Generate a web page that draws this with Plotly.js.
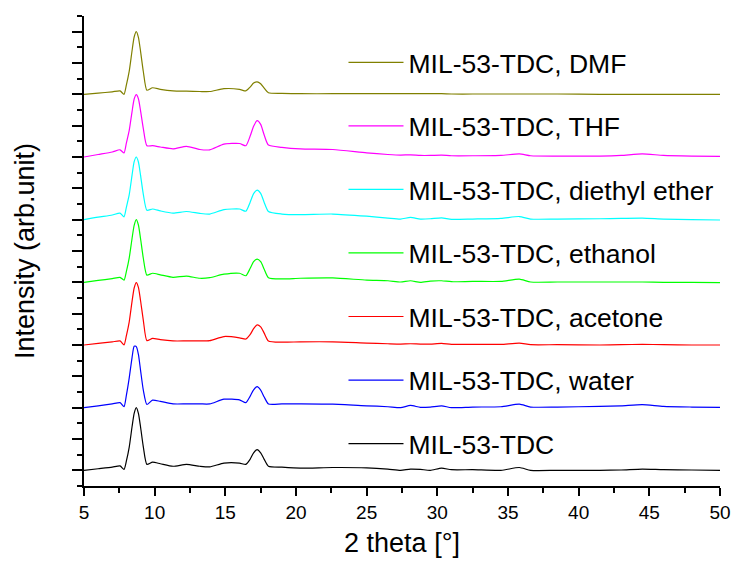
<!DOCTYPE html>
<html>
<head>
<meta charset="utf-8">
<script src="https://cdn.plot.ly/plotly-3.0.1.min.js"></script>
<style>html,body{margin:0;padding:0;background:#fff;}#chart{width:734px;height:563px;}</style>
</head>
<body>
<div id="chart"></div>
<script>
// 2 theta grid (degrees)
const twoTheta = [5, 6, 7, 7.55, 7.83, 8.0, 8.2, 8.4, 8.55, 8.7, 8.85, 9.0, 9.2, 9.45, 9.85, 10.4, 11.3, 12.25, 13.2, 13.9, 14.9, 16.0, 16.45, 16.75, 17.0, 17.25, 17.5, 17.75, 18.05, 19, 20.3, 22.6, 25, 26.5, 27.4, 28.1, 28.8, 29.5, 30.3, 31, 32.5, 34.5, 35.8, 36.6, 38.5, 41.5, 43, 44.5, 46, 48, 50];

// relative intensities (arb. unit)
const tdc = [0, 0.05, 0.10, 0.14, 0.03, 0.30, 0.74, 1.39, 1.82, 2.0, 1.82, 1.39, 0.74, 0.19, 0.26, 0.21, 0.13, 0.19, 0.13, 0.11, 0.23, 0.23, 0.19, 0.35, 0.56, 0.66, 0.56, 0.35, 0.13, 0.10, 0.07, 0.09, 0.08, 0.04, 0.0, 0.04, 0.03, 0.0, 0.07, 0.02, 0.02, 0.0, 0.09, 0.0, 0.0, 0.0, 0.01, 0.04, 0.02, 0.01, 0.0];
const water = [0, 0.06, 0.12, 0.16, 0.03, 0.40, 0.95, 1.60, 1.96, 1.95, 1.70, 1.20, 0.55, 0.10, 0.24, 0.20, 0.12, 0.12, 0.12, 0.12, 0.27, 0.25, 0.16, 0.36, 0.57, 0.67, 0.56, 0.34, 0.12, 0.12, 0.12, 0.11, 0.06, 0.03, 0.0, 0.07, 0.01, 0.02, 0.06, 0.0, 0.02, 0.03, 0.11, 0.02, 0.02, 0.04, 0.06, 0.10, 0.04, 0.02, 0.01];
const acetone = [0, 0.05, 0.10, 0.13, 0.0, 0.30, 0.74, 1.39, 1.82, 1.99, 1.84, 1.42, 0.78, 0.14, 0.21, 0.17, 0.13, 0.13, 0.13, 0.14, 0.27, 0.23, 0.19, 0.33, 0.52, 0.64, 0.58, 0.38, 0.13, 0.09, 0.10, 0.10, 0.06, 0.04, 0.03, 0.04, 0.03, 0.03, 0.05, 0.02, 0.02, 0.02, 0.06, 0.01, 0.01, 0.0, 0.01, 0.02, 0.01, 0.0, 0.0];
const ethanol = [0, 0.06, 0.12, 0.16, 0.07, 0.35, 0.78, 1.40, 1.82, 2.0, 1.83, 1.40, 0.76, 0.23, 0.29, 0.24, 0.16, 0.20, 0.13, 0.15, 0.26, 0.29, 0.21, 0.44, 0.66, 0.74, 0.66, 0.42, 0.15, 0.11, 0.13, 0.14, 0.07, 0.05, 0.01, 0.05, 0.0, 0.04, 0.05, 0.02, 0.03, 0.03, 0.10, 0.01, 0.01, 0.01, 0.01, 0.01, 0.0, 0.0, -0.01];
const diethylEther = [0, 0.08, 0.15, 0.21, 0.09, 0.40, 0.80, 1.42, 1.85, 2.0, 1.84, 1.42, 0.80, 0.30, 0.34, 0.28, 0.21, 0.26, 0.20, 0.18, 0.32, 0.34, 0.27, 0.55, 0.83, 0.94, 0.84, 0.55, 0.26, 0.18, 0.16, 0.18, 0.11, 0.05, 0.02, 0.07, 0.02, 0.03, 0.06, 0.01, 0.02, 0.04, 0.10, 0.02, 0.02, 0.03, 0.04, 0.05, 0.02, 0.0, -0.01];
const thf = [0, 0.08, 0.16, 0.23, 0.13, 0.45, 0.85, 1.45, 1.85, 1.99, 1.86, 1.48, 0.90, 0.36, 0.36, 0.32, 0.26, 0.34, 0.24, 0.23, 0.41, 0.43, 0.36, 0.66, 0.98, 1.16, 1.04, 0.70, 0.38, 0.31, 0.26, 0.24, 0.13, 0.08, 0.06, 0.07, 0.05, 0.05, 0.06, 0.04, 0.04, 0.05, 0.10, 0.04, 0.03, 0.03, 0.05, 0.10, 0.05, 0.03, 0.02];
const dmf = [0, 0.04, 0.08, 0.11, 0.0, 0.30, 0.74, 1.39, 1.83, 2.0, 1.82, 1.38, 0.72, 0.13, 0.21, 0.16, 0.11, 0.10, 0.09, 0.09, 0.18, 0.16, 0.11, 0.23, 0.36, 0.40, 0.34, 0.20, 0.05, 0.03, 0.02, 0.02, 0.02, 0.02, 0.02, 0.02, 0.02, 0.02, 0.02, 0.01, 0.01, 0.01, 0.01, 0.01, 0.01, 0.0, 0.0, 0.0, 0.0, 0.0, 0.0];

// series, top of the stack first
const seriesNames = ["MIL-53-TDC, DMF", "MIL-53-TDC, THF", "MIL-53-TDC, diethyl ether", "MIL-53-TDC, ethanol", "MIL-53-TDC, acetone", "MIL-53-TDC, water", "MIL-53-TDC"];
const seriesValues = [dmf, thf, diethylEther, ethanol, acetone, water, tdc];
const seriesOffsets = [12, 10, 8, 6, 4, 2, 0];
const seriesColors = ["#808000", "#FF00FF", "#00FFFF", "#00FF00", "#FF0000", "#0000FF", "#000000"];

const traces = seriesNames.map((name, i) => ({
  type: "scatter",
  mode: "lines",
  name: name,
  legendgroup: "g" + i,
  x: twoTheta,
  y: seriesValues[i].map(v => v + seriesOffsets[i]),
  line: {color: seriesColors[i], width: 1.2, shape: "spline", smoothing: 0.6}
}));

const FONT = "Liberation Sans, Arial, sans-serif";
const layout = {
  width: 734, height: 563,
  margin: {l: 84, r: 14, t: 16, b: 77},
  paper_bgcolor: "#fff", plot_bgcolor: "#fff",
  font: {family: FONT, color: "#000"},
  showlegend: true,
  legend: {
    x: 0.408, xanchor: "left", y: 0.952, yanchor: "top",
    font: {family: FONT, size: 26.5, color: "#000"},
    bgcolor: "rgba(0,0,0,0)", borderwidth: 0,
    traceorder: "grouped", tracegroupgap: 26.1, itemwidth: 55
  },
  xaxis: {
    range: [5, 50], tick0: 5, dtick: 5,
    showline: true, linecolor: "#000", linewidth: 2,
    ticks: "outside", ticklen: 8, tickwidth: 2, tickcolor: "#000",
    minor: {dtick: 2.5, tick0: 5, ticks: "outside", ticklen: 5, tickwidth: 2, tickcolor: "#000"},
    showgrid: false, zeroline: false,
    tickfont: {family: FONT, size: 19, color: "#000"},
    title: {text: "2 theta [°]", font: {family: FONT, size: 27, color: "#000"}, standoff: 11}
  },
  yaxis: {
    range: [-0.5, 14.5], tick0: 0, dtick: 1,
    showline: true, linecolor: "#000", linewidth: 2,
    ticks: "outside", ticklen: 10, tickwidth: 2, tickcolor: "#000",
    minor: {dtick: 0.5, tick0: 0, ticks: "outside", ticklen: 5, tickwidth: 2, tickcolor: "#000"},
    showticklabels: false, showgrid: false, zeroline: false,
    title: {text: "Intensity (arb.unit)", font: {family: FONT, size: 27, color: "#000"}, standoff: 30}
  }
};

Plotly.newPlot("chart", traces, layout, {staticPlot: true, displayModeBar: false});
</script>
</body>
</html>
